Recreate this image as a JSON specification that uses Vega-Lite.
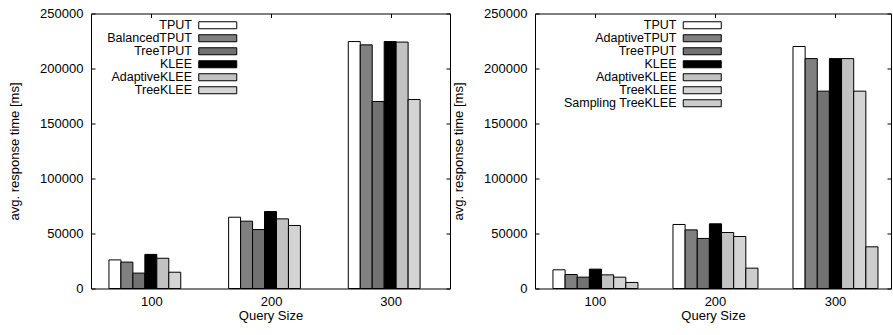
{
  "$schema": "https://vega.github.io/schema/vega-lite/v6.json",
  "padding": {"left": 8, "top": 6.5, "right": 5, "bottom": 5},
  "spacing": 1,
  "datasets": {
    "left": [
      {"size": "100", "method": "TPUT", "time": 26000},
      {"size": "100", "method": "BalancedTPUT", "time": 24000},
      {"size": "100", "method": "TreeTPUT", "time": 14000},
      {"size": "100", "method": "KLEE", "time": 31000},
      {"size": "100", "method": "AdaptiveKLEE", "time": 27500},
      {"size": "100", "method": "TreeKLEE", "time": 14800},
      {"size": "200", "method": "TPUT", "time": 64800},
      {"size": "200", "method": "BalancedTPUT", "time": 61200},
      {"size": "200", "method": "TreeTPUT", "time": 53600},
      {"size": "200", "method": "KLEE", "time": 70000},
      {"size": "200", "method": "AdaptiveKLEE", "time": 63300},
      {"size": "200", "method": "TreeKLEE", "time": 57300},
      {"size": "300", "method": "TPUT", "time": 224500},
      {"size": "300", "method": "BalancedTPUT", "time": 221500},
      {"size": "300", "method": "TreeTPUT", "time": 170000},
      {"size": "300", "method": "KLEE", "time": 224500},
      {"size": "300", "method": "AdaptiveKLEE", "time": 224000},
      {"size": "300", "method": "TreeKLEE", "time": 171800}
    ],
    "right": [
      {"size": "100", "method": "TPUT", "time": 17000},
      {"size": "100", "method": "AdaptiveTPUT", "time": 12700},
      {"size": "100", "method": "TreeTPUT", "time": 10300},
      {"size": "100", "method": "KLEE", "time": 17600},
      {"size": "100", "method": "AdaptiveKLEE", "time": 12400},
      {"size": "100", "method": "TreeKLEE", "time": 10300},
      {"size": "100", "method": "Sampling TreeKLEE", "time": 5500},
      {"size": "200", "method": "TPUT", "time": 58200},
      {"size": "200", "method": "AdaptiveTPUT", "time": 53300},
      {"size": "200", "method": "TreeTPUT", "time": 45500},
      {"size": "200", "method": "KLEE", "time": 58800},
      {"size": "200", "method": "AdaptiveKLEE", "time": 50900},
      {"size": "200", "method": "TreeKLEE", "time": 47300},
      {"size": "200", "method": "Sampling TreeKLEE", "time": 18500},
      {"size": "300", "method": "TPUT", "time": 220000},
      {"size": "300", "method": "AdaptiveTPUT", "time": 209000},
      {"size": "300", "method": "TreeTPUT", "time": 179400},
      {"size": "300", "method": "KLEE", "time": 209000},
      {"size": "300", "method": "AdaptiveKLEE", "time": 209000},
      {"size": "300", "method": "TreeKLEE", "time": 179400},
      {"size": "300", "method": "Sampling TreeKLEE", "time": 37900}
    ]
  },
  "hconcat": [
    {
      "width": 359,
      "height": 275,
      "data": {"name": "left"},
      "layer": [
        {
          "mark": {"type": "bar", "stroke": "black", "strokeWidth": 1},
          "encoding": {
            "x": {"field": "size", "type": "nominal", "title": "Query Size",
              "scale": {"paddingInner": 0.4, "paddingOuter": 0.2, "align": 0.375},
              "axis": {"labelAngle": 0, "tickOffset": 6.5, "tickSize": -4, "labelPadding": 11, "titlePadding": 1, "domain": false}},
            "xOffset": {"field": "method", "type": "nominal",
              "sort": ["TPUT", "BalancedTPUT", "TreeTPUT", "KLEE", "AdaptiveKLEE", "TreeKLEE"],
              "scale": {"paddingInner": 0, "paddingOuter": 0}},
            "y": {"field": "time", "type": "quantitative", "title": "avg. response time [ms]",
              "scale": {"domain": [0, 250000], "nice": false},
              "axis": {"values": [0, 50000, 100000, 150000, 200000, 250000], "format": "d", "tickSize": -4, "labelPadding": 12, "grid": false, "domain": false, "titlePadding": 18}},
            "fill": {"field": "method", "type": "nominal",
              "scale": {"domain": ["TPUT", "BalancedTPUT", "TreeTPUT", "KLEE", "AdaptiveKLEE", "TreeKLEE"],
                        "range": ["#ffffff", "#808080", "#727272", "#000000", "#c2c2c2", "#d4d4d4"]},
              "legend": {"orient": "none", "legendX": 120.5, "legendY": 5.5}}
          }
        },
        {
          "mark": {"type": "bar", "fillOpacity": 0, "strokeOpacity": 0},
          "encoding": {
            "x": {"field": "size", "type": "nominal",
              "axis": {"orient": "top", "labels": false, "title": null, "tickOffset": 6.5, "tickSize": -4, "domain": false}},
            "xOffset": {"field": "method", "type": "nominal",
              "sort": ["TPUT", "BalancedTPUT", "TreeTPUT", "KLEE", "AdaptiveKLEE", "TreeKLEE"]},
            "y": {"field": "time", "type": "quantitative",
              "axis": {"orient": "right", "labels": false, "title": null, "values": [0, 50000, 100000, 150000, 200000, 250000], "tickSize": -4, "grid": false, "domain": false}}
          }
        }
      ],
      "resolve": {"axis": {"x": "independent", "y": "independent"}}
    },
    {
      "width": 356,
      "height": 275,
      "data": {"name": "right"},
      "layer": [
        {
          "mark": {"type": "bar", "stroke": "black", "strokeWidth": 1},
          "encoding": {
            "x": {"field": "size", "type": "nominal", "title": "Query Size",
              "scale": {"paddingInner": 0.2917, "paddingOuter": 0.129, "align": 0.58},
              "axis": {"labelAngle": 0, "tickSize": -4, "labelPadding": 11, "titlePadding": 1, "domain": false}},
            "xOffset": {"field": "method", "type": "nominal",
              "sort": ["TPUT", "AdaptiveTPUT", "TreeTPUT", "KLEE", "AdaptiveKLEE", "TreeKLEE", "Sampling TreeKLEE"],
              "scale": {"paddingInner": 0, "paddingOuter": 0}},
            "y": {"field": "time", "type": "quantitative", "title": "avg. response time [ms]",
              "scale": {"domain": [0, 250000], "nice": false},
              "axis": {"values": [0, 50000, 100000, 150000, 200000, 250000], "format": "d", "tickSize": -4, "labelPadding": 12, "grid": false, "domain": false, "titlePadding": 18}},
            "fill": {"field": "method", "type": "nominal",
              "scale": {"domain": ["TPUT", "AdaptiveTPUT", "TreeTPUT", "KLEE", "AdaptiveKLEE", "TreeKLEE", "Sampling TreeKLEE"],
                        "range": ["#ffffff", "#808080", "#727272", "#000000", "#c2c2c2", "#d4d4d4", "#cccccc"]},
              "legend": {"orient": "none", "legendX": 161, "legendY": 5.5}}
          }
        },
        {
          "mark": {"type": "bar", "fillOpacity": 0, "strokeOpacity": 0},
          "encoding": {
            "x": {"field": "size", "type": "nominal",
              "axis": {"orient": "top", "labels": false, "title": null, "tickSize": -4, "domain": false}},
            "xOffset": {"field": "method", "type": "nominal",
              "sort": ["TPUT", "AdaptiveTPUT", "TreeTPUT", "KLEE", "AdaptiveKLEE", "TreeKLEE", "Sampling TreeKLEE"]},
            "y": {"field": "time", "type": "quantitative",
              "axis": {"orient": "right", "labels": false, "title": null, "values": [0, 50000, 100000, 150000, 200000, 250000], "tickSize": -4, "grid": false, "domain": false}}
          }
        }
      ],
      "resolve": {"axis": {"x": "independent", "y": "independent"}}
    }
  ],
  "resolve": {"scale": {"fill": "independent", "x": "independent", "xOffset": "independent", "y": "independent"}, "legend": {"fill": "independent"}},
  "config": {
    "font": "Liberation Sans",
    "view": {"stroke": "black", "strokeWidth": 1},
    "axis": {"labelFont": "Liberation Sans", "labelFontSize": 13, "labelColor": "black", "titleFont": "Liberation Sans", "titleFontSize": 13, "titleFontWeight": "normal", "titleColor": "black", "tickColor": "black", "tickWidth": 1},
    "legend": {"title": null, "padding": 0, "labelAlign": "right", "labelOffset": -32, "symbolType": "M-5.43,-1H5.43V1H-5.43Z", "symbolSize": 49, "symbolStrokeColor": "black", "symbolStrokeWidth": 1, "symbolOpacity": 1, "rowPadding": 0, "labelFont": "Liberation Sans", "labelFontSize": 12.5, "labelColor": "black", "labelLimit": 300}
  }
}
